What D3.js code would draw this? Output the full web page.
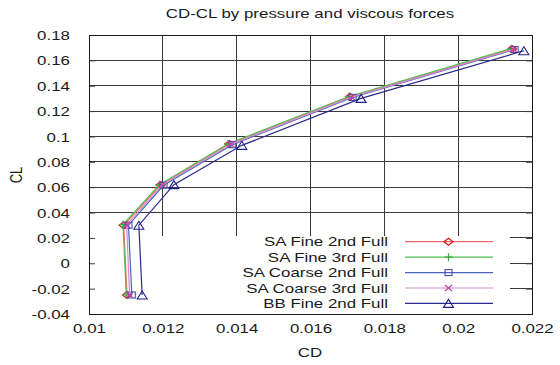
<!DOCTYPE html>
<html><head><meta charset="utf-8">
<script src="https://cdn.jsdelivr.net/npm/d3@7"></script>
<style>body{margin:0;background:#fff}svg{display:block}</style>
</head><body><svg id="c" width="560" height="365"></svg>
<script>
const seriesNames = ["SA Fine 2nd Full","SA Fine 3rd Full","SA Coarse 2nd Full","SA Coarse 3rd Full","BB Fine 2nd Full"];
const cdSAFine2nd   = [0.01103, 0.01094, 0.01194, 0.01380, 0.01707, 0.02146];
const clSAFine2nd   = [-0.025, 0.0300, 0.0617, 0.0940, 0.1313, 0.1690];
const cdSAFine3rd   = [0.01101, 0.01092, 0.01191, 0.01377, 0.01704, 0.02143];
const clSAFine3rd   = [-0.025, 0.0305, 0.0620, 0.0942, 0.1315, 0.1692];
const cdSACoarse2nd = [0.01116, 0.01107, 0.01202, 0.01388, 0.01714, 0.02153];
const clSACoarse2nd = [-0.025, 0.0300, 0.0615, 0.0935, 0.1308, 0.1685];
const cdSACoarse3rd = [0.01110, 0.01102, 0.01198, 0.01384, 0.01711, 0.02150];
const clSACoarse3rd = [-0.025, 0.0302, 0.0618, 0.0938, 0.1310, 0.1688];
const cdBBFine2nd   = [0.01144, 0.01135, 0.01230, 0.01414, 0.01737, 0.02178];
const clBBFine2nd   = [-0.025, 0.0300, 0.0620, 0.0930, 0.1300, 0.1676];
const xTicks = [0.01,0.012,0.014,0.016,0.018,0.02,0.022];
const xTickLabels = ["0.01","0.012","0.014","0.016","0.018","0.02","0.022"];
const yTicks = [-0.04,-0.02,0,0.02,0.04,0.06,0.08,0.1,0.12,0.14,0.16,0.18];
const yTickLabels = ["-0.04","-0.02","0","0.02","0.04","0.06","0.08","0.1","0.12","0.14","0.16","0.18"];

const cds = [cdSAFine2nd, cdSAFine3rd, cdSACoarse2nd, cdSACoarse3rd, cdBBFine2nd];
const cls = [clSAFine2nd, clSAFine3rd, clSACoarse2nd, clSACoarse3rd, clBBFine2nd];
const lineColors = ["#f26a6a","#4fc04f","#4a62b8","#d48ccc","#2a2a8c"];
const markColors = ["#e01010","#3aa83a","#3a52a8","#c040a8","#20208a"];
const markTypes = ["diamond","plus","square","cross","triangle"];

const L=89, R=532, T=35, B=314, SX=1.3, FS=13;
const svg = d3.select("#c");
const x = d3.scaleLinear().domain([0.01,0.022]).range([L,R]);
const y = d3.scaleLinear().domain([-0.04,0.18]).range([B,T]);
const font = "Liberation Sans, Arial, sans-serif";

function stxt(g, tx, ty, s, anchor, extra){
  return g.append("text").attr("transform",`translate(${tx},${ty}) scale(${SX},1)${extra||""}`)
    .attr("text-anchor",anchor).attr("font-family",font).attr("font-size",FS).attr("fill","#1a1a1a").text(s);
}

// grid
const grid = svg.append("g").attr("stroke","#3a3a3a").attr("stroke-width",1).attr("shape-rendering","crispEdges");
xTicks.slice(1,-1).forEach(v=>grid.append("line").attr("x1",x(v)).attr("x2",x(v)).attr("y1",T).attr("y2",B));
yTicks.slice(1,-1).forEach(v=>grid.append("line").attr("x1",L).attr("x2",R).attr("y1",y(v)).attr("y2",y(v)));
// opaque key area
svg.append("rect").attr("x",L+1).attr("y",236).attr("width",510-L-1).attr("height",B-236).attr("fill","#fff");

// axes (labels stretched)
const ax = svg.append("g").attr("transform",`translate(0,${B})`)
  .call(d3.axisBottom(x).tickValues(xTicks).tickFormat((d,i)=>xTickLabels[i]).tickSizeInner(0).tickSizeOuter(0));
ax.select(".domain").remove();
ax.selectAll("line").remove();
ax.selectAll("text").attr("y",null).attr("dy",null).attr("transform",`translate(0,19) scale(${SX},1)`)
  .attr("font-family",font).attr("font-size",FS).attr("fill","#1a1a1a");
const ay = svg.append("g").attr("transform",`translate(${L},0)`)
  .call(d3.axisLeft(y).tickValues(yTicks).tickFormat((d,i)=>yTickLabels[i]).tickSizeInner(-6).tickSizeOuter(0));
ay.select(".domain").remove();
ay.selectAll("line").attr("stroke","#3a3a3a");
ay.selectAll("text").attr("x",null).attr("dy","0.35em").attr("transform",`translate(-19,0) scale(${SX},1)`)
  .attr("font-family",font).attr("font-size",FS).attr("fill","#1a1a1a");
const ar = svg.append("g").attr("transform",`translate(${R},0)`)
  .call(d3.axisRight(y).tickValues(yTicks).tickFormat("").tickSizeInner(-6).tickSizeOuter(0));
ar.select(".domain").remove(); ar.selectAll("line").attr("stroke","#3a3a3a");
// border
svg.append("rect").attr("x",L).attr("y",T).attr("width",R-L).attr("height",B-T)
  .attr("fill","none").attr("stroke","#1a1a1a").attr("stroke-width",1).attr("shape-rendering","crispEdges");

// titles
stxt(svg, 310, 18, "CD-CL by pressure and viscous forces", "middle");
stxt(svg, 310, 357, "CD", "middle");
svg.append("text").attr("transform",`translate(22,175) scale(${SX},1) rotate(-90)`).attr("text-anchor","middle")
  .attr("font-family",font).attr("font-size",FS).attr("fill","#1a1a1a").text("CL");

function marker(g, type, cx, cy, col){
  if(type==="diamond") g.append("path").attr("d",`M${cx-4.5},${cy}L${cx},${cy-3.5}L${cx+4.5},${cy}L${cx},${cy+3.5}Z`).attr("fill","none").attr("stroke",col).attr("stroke-width",1.2);
  else if(type==="plus") g.append("path").attr("d",`M${cx-4},${cy}H${cx+4}M${cx},${cy-4}V${cy+4}`).attr("stroke",col).attr("stroke-width",1.2);
  else if(type==="square") g.append("rect").attr("x",cx-3.5).attr("y",cy-3).attr("width",7).attr("height",6).attr("fill","none").attr("stroke",col).attr("stroke-width",1.1);
  else if(type==="cross") g.append("path").attr("d",`M${cx-3.5},${cy-3}L${cx+3.5},${cy+3}M${cx-3.5},${cy+3}L${cx+3.5},${cy-3}`).attr("stroke",col).attr("stroke-width",1.2);
  else if(type==="triangle") g.append("path").attr("d",`M${cx-5},${cy+4}L${cx},${cy-4}L${cx+5},${cy+4}Z`).attr("fill","none").attr("stroke",col).attr("stroke-width",1.1);
}

// data
const line = d3.line().x(d=>x(d[0])).y(d=>y(d[1]));
cds.forEach((cd,k)=>{
  const pts = cd.map((v,i)=>[v, cls[k][i]]);
  const g = svg.append("g");
  g.append("path").datum(pts).attr("d",line).attr("fill","none").attr("stroke",lineColors[k]).attr("stroke-width",1.2);
  pts.forEach(p=>marker(g, markTypes[k], x(p[0]), y(p[1]), markColors[k]));
});

// legend
const rowsY = [241.7,257.2,272.6,288.0,303.4];
seriesNames.forEach((n,k)=>{
  stxt(svg, 388, rowsY[k]+4.6, n, "end");
  svg.append("line").attr("x1",405).attr("x2",493).attr("y1",rowsY[k]).attr("y2",rowsY[k]).attr("stroke",lineColors[k]).attr("stroke-width",1.2);
  marker(svg, markTypes[k], 448.5, rowsY[k], markColors[k]);
});
</script></body></html>
